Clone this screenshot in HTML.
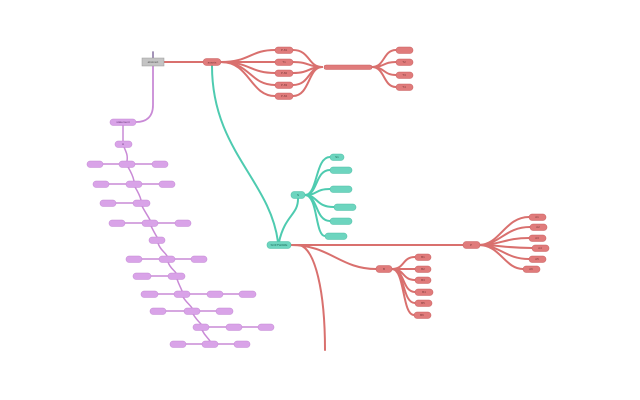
<!DOCTYPE html>
<html><head><meta charset="utf-8"><style>
html,body{margin:0;padding:0;background:#fff;}
svg{display:block;}
text{font-family:"Liberation Sans",sans-serif;font-size:3px;text-anchor:middle;dominant-baseline:central;}
</style></head><body>
<svg width="640" height="400" viewBox="0 0 640 400" xmlns="http://www.w3.org/2000/svg">
<g fill="none" stroke-linecap="round">
<line x1="153" y1="52" x2="153" y2="58" stroke="#9a88b0" stroke-width="1.8"/>
<line x1="164" y1="62" x2="203" y2="62" stroke="#d9706e" stroke-width="2"/>
<g stroke="#d9706e" stroke-width="2">
<path d="M221,62 C250,62 250,50 275,50"/>
<path d="M221,62 C250,62 250,62 275,62"/>
<path d="M221,62 C250,62 250,73 275,73"/>
<path d="M221,62 C250,62 250,85 275,85"/>
<path d="M221,62 C250,62 250,96 275,96"/>
<path d="M293,50 C310,50 308,67 322,67"/>
<path d="M293,62 C310,62 308,67 322,67"/>
<path d="M293,73 C310,73 308,67 322,67"/>
<path d="M293,85 C310,85 308,67 322,67"/>
<path d="M293,96 C310,96 308,67 322,67"/>
<path d="M372,67 C385,67 383,50 396,50"/>
<path d="M372,67 C385,67 383,62 396,62"/>
<path d="M372,67 C385,67 383,75 396,75"/>
<path d="M372,67 C385,67 383,87 396,87"/>
<line x1="291" y1="245" x2="463" y2="245"/>
<path d="M479,245 C500,245 505,217 529,217"/>
<path d="M479,245 C500,245 505,227 530,227"/>
<path d="M479,245 C500,245 505,238 529,238"/>
<path d="M479,245 C500,245 505,248 532,248"/>
<path d="M479,245 C500,245 505,259 529,259"/>
<path d="M479,245 C500,245 505,269 523,269"/>
<path d="M291,245 C330,245 340,269 376,269"/>
<path d="M392,269 C405,269 402,257 415,257"/>
<path d="M392,269 C405,269 402,269 415,269"/>
<path d="M392,269 C405,269 402,280 415,280"/>
<path d="M392,269 C405,269 402,292 415,292"/>
<path d="M392,269 C405,269 402,303 415,303"/>
<path d="M392,269 C405,269 402,315 414,315"/>
<path d="M300,245 C315,250 325,290 325,350"/>
</g>
<g stroke="#4ecbb0" stroke-width="2">
<path d="M212,66 C212,150 270,180 278,242"/>
<path d="M279,242 C285,215 298,215 298,199"/>
<path d="M305,195 C318,195 315,157 330,157"/>
<path d="M305,195 C318,195 315,170 330,170"/>
<path d="M305,195 C318,195 315,189 330,189"/>
<path d="M305,195 C318,195 315,207 334,207"/>
<path d="M305,195 C318,195 315,221 330,221"/>
<path d="M305,195 C318,195 315,236 325,236"/>
</g>
<g stroke="#c98ad6" stroke-width="1.5">
<path d="M153,66 L153,105 C153,118 145,122 136,122" stroke-width="1.8"/>
<line x1="123" y1="125" x2="123" y2="141"/>
<path d="M124,147 C126,152 128,155 127,161"/>
<line x1="103" y1="164" x2="119" y2="164"/><line x1="135" y1="164" x2="152" y2="164"/>
<path d="M128,167 C131,172 133,176 134,181"/>
<line x1="109" y1="184" x2="126" y2="184"/><line x1="142" y1="184" x2="159" y2="184"/>
<path d="M135,187 C138,192 140,196 141,200"/>
<line x1="116" y1="203" x2="133" y2="203"/>
<path d="M142,206 C145,212 148,216 150,220"/>
<line x1="125" y1="223" x2="142" y2="223"/><line x1="158" y1="223" x2="175" y2="223"/>
<path d="M151,226 C153,230 155,234 157,237"/>
<path d="M158,243 C160,250 165,252 167,256"/>
<line x1="142" y1="259" x2="159" y2="259"/><line x1="175" y1="259" x2="191" y2="259"/>
<path d="M168,262 C170,268 174,270 176,273"/>
<line x1="151" y1="276" x2="168" y2="276"/>
<path d="M177,279 C179,285 181,288 182,291"/>
<line x1="158" y1="294" x2="174" y2="294"/><line x1="190" y1="294" x2="207" y2="294"/><line x1="223" y1="294" x2="239" y2="294"/>
<path d="M183,297 C186,302 190,305 192,308"/>
<line x1="166" y1="311" x2="184" y2="311"/><line x1="200" y1="311" x2="216" y2="311"/>
<path d="M193,314 C196,319 199,322 201,324"/>
<line x1="209" y1="327" x2="226" y2="327"/><line x1="242" y1="327" x2="258" y2="327"/>
<path d="M202,330 C205,336 208,338 210,341"/>
<line x1="186" y1="344" x2="202" y2="344"/><line x1="218" y1="344" x2="234" y2="344"/>
</g>
</g>
<g>
<rect x="142" y="58" width="22" height="8" fill="#c4c4c4" stroke="#999" stroke-width="0.5"/>
<text x="153" y="62" fill="#555">abstract</text>
</g>
<g fill="#e07b7b" stroke="#c96262" stroke-width="0.5">
<rect x="203" y="58.5" width="18" height="7" rx="3.5"/>
<rect x="275" y="47" width="18" height="6.5" rx="3"/>
<rect x="275" y="59" width="18" height="6.5" rx="3"/>
<rect x="275" y="70" width="18" height="6.5" rx="3"/>
<rect x="275" y="82" width="18" height="6.5" rx="3"/>
<rect x="275" y="93" width="18" height="6.5" rx="3"/>
<rect x="324" y="65" width="48" height="4.5" rx="2"/>
<rect x="396" y="47" width="17" height="6.5" rx="3"/>
<rect x="396" y="59" width="17" height="6.5" rx="3"/>
<rect x="396" y="72" width="17" height="6.5" rx="3"/>
<rect x="396" y="84" width="17" height="6.5" rx="3"/>
<rect x="463" y="241.5" width="17" height="7" rx="3"/>
<rect x="529" y="214" width="17" height="6.5" rx="3"/>
<rect x="530" y="224" width="17" height="6.5" rx="3"/>
<rect x="529" y="235" width="17" height="6.5" rx="3"/>
<rect x="532" y="245" width="17" height="6.5" rx="3"/>
<rect x="529" y="256" width="17" height="6.5" rx="3"/>
<rect x="523" y="266" width="17" height="6.5" rx="3"/>
<rect x="376" y="265.5" width="16" height="7" rx="3"/>
<rect x="415" y="254" width="16" height="6.5" rx="3"/>
<rect x="415" y="266" width="16" height="6.5" rx="3"/>
<rect x="415" y="277" width="16" height="6.5" rx="3"/>
<rect x="415" y="289" width="18" height="6.5" rx="3"/>
<rect x="415" y="300" width="17" height="6.5" rx="3"/>
<rect x="414" y="312" width="17" height="6.5" rx="3"/>
</g>
<g fill="#6dd5bf" stroke="#4fbea6" stroke-width="0.5">
<rect x="267" y="241.5" width="24" height="7" rx="3"/>
<rect x="291" y="191.5" width="14" height="7" rx="3"/>
<rect x="330" y="154" width="14" height="6.5" rx="3"/>
<rect x="330" y="167" width="22" height="6.5" rx="3"/>
<rect x="330" y="186" width="22" height="6.5" rx="3"/>
<rect x="334" y="204" width="22" height="6.5" rx="3"/>
<rect x="330" y="218" width="22" height="6.5" rx="3"/>
<rect x="325" y="233" width="22" height="6.5" rx="3"/>
</g>
<g fill="#d9a3e8" stroke="#c38ad4" stroke-width="0.5">
<rect x="110" y="119" width="26" height="6.5" rx="3"/>
<rect x="115" y="141" width="17" height="6.5" rx="3"/>
<rect x="87" y="161" width="16" height="6.5" rx="3"/><rect x="119" y="161" width="16" height="6.5" rx="3"/><rect x="152" y="161" width="16" height="6.5" rx="3"/>
<rect x="93" y="181" width="16" height="6.5" rx="3"/><rect x="126" y="181" width="16" height="6.5" rx="3"/><rect x="159" y="181" width="16" height="6.5" rx="3"/>
<rect x="100" y="200" width="16" height="6.5" rx="3"/><rect x="133" y="200" width="17" height="6.5" rx="3"/>
<rect x="109" y="220" width="16" height="6.5" rx="3"/><rect x="142" y="220" width="16" height="6.5" rx="3"/><rect x="175" y="220" width="16" height="6.5" rx="3"/>
<rect x="149" y="237" width="16" height="6.5" rx="3"/>
<rect x="126" y="256" width="16" height="6.5" rx="3"/><rect x="159" y="256" width="16" height="6.5" rx="3"/><rect x="191" y="256" width="16" height="6.5" rx="3"/>
<rect x="133" y="273" width="18" height="6.5" rx="3"/><rect x="168" y="273" width="17" height="6.5" rx="3"/>
<rect x="141" y="291" width="17" height="6.5" rx="3"/><rect x="174" y="291" width="16" height="6.5" rx="3"/><rect x="207" y="291" width="16" height="6.5" rx="3"/><rect x="239" y="291" width="17" height="6.5" rx="3"/>
<rect x="150" y="308" width="16" height="6.5" rx="3"/><rect x="184" y="308" width="16" height="6.5" rx="3"/><rect x="216" y="308" width="17" height="6.5" rx="3"/>
<rect x="193" y="324" width="16" height="6.5" rx="3"/><rect x="226" y="324" width="16" height="6.5" rx="3"/><rect x="258" y="324" width="16" height="6.5" rx="3"/>
<rect x="170" y="341" width="16" height="6.5" rx="3"/><rect x="202" y="341" width="16" height="6.5" rx="3"/><rect x="234" y="341" width="16" height="6.5" rx="3"/>
</g>
<g fill="#7a3a3a">
<text x="212" y="62.5">assets</text>
<text x="284" y="50">P-81</text><text x="284" y="62">T1</text><text x="284" y="73">P-82</text><text x="284" y="85">P-83</text><text x="284" y="96">P-84</text>
<text x="404" y="62">T2</text><text x="404" y="75">T3</text><text x="404" y="87">T4</text>
<text x="471" y="245">P</text>
<text x="537" y="217">A1</text><text x="538" y="227">A2</text><text x="537" y="238">A3</text><text x="540" y="248">A4</text><text x="537" y="259">A5</text><text x="531" y="269">A6</text>
<text x="384" y="269">B</text>
<text x="423" y="257">B1</text><text x="423" y="269">B2</text><text x="423" y="280">B3</text><text x="424" y="292">B4</text><text x="423" y="303">B5</text><text x="422" y="315">B6</text>
</g>
<g fill="#1e6b5a">
<text x="279" y="245">SOFTWARE</text><text x="298" y="195">S</text><text x="337" y="157">S1</text>
</g>
<g fill="#6a3a7a">
<text x="123" y="122">statement</text><text x="123" y="144">A</text>
</g>
</svg>
</body></html>
